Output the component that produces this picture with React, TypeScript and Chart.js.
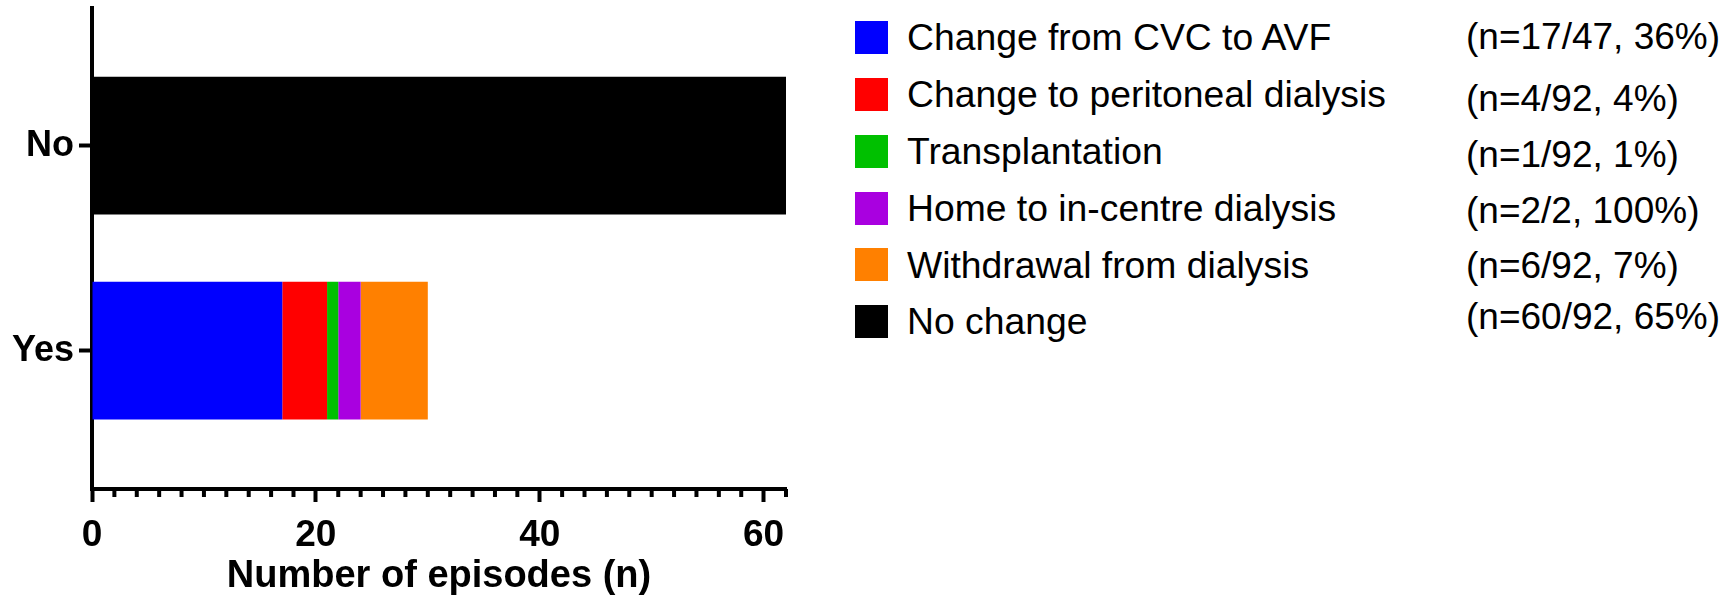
import React, { useEffect, useRef } from "react";
import { Chart, registerables } from "chart.js";

Chart.register(...registerables);

// ---- data ----
const categories = ["No", "Yes"];
const seriesNames = [
  "Change from CVC to AVF",
  "Change to peritoneal dialysis",
  "Transplantation",
  "Home to in-centre dialysis",
  "Withdrawal from dialysis",
  "No change",
];
const cvcToAvf = [0, 17];
const peritoneal = [0, 4];
const transplantation = [0, 1];
const homeToCentre = [0, 2];
const withdrawal = [0, 6];
const noChange = [62, 0];
const legendCounts = [
  "(n=17/47, 36%)",
  "(n=4/92, 4%)",
  "(n=1/92, 1%)",
  "(n=2/2, 100%)",
  "(n=6/92, 7%)",
  "(n=60/92, 65%)",
];
const xMax = 62;
const xStep = 2;
const xLabelEvery = 20;

// ---- styles ----
const seriesColors = ["#0000FF", "#FF0000", "#00C000", "#A900E0", "#FF8000", "#000000"];
const FONT = "'Liberation Sans', Arial, Helvetica, sans-serif";
const labelRowCenters = [37, 94.2, 151, 208, 264.5, 321.3];
const valueRowCenters = [34, 96, 152, 208, 263.3, 314];

const allSeries = [cvcToAvf, peritoneal, transplantation, homeToCentre, withdrawal, noChange];

const minorTicksPlugin = {
  id: "minorTicks",
  afterDraw(chart: any) {
    const s = chart.scales.x;
    const ctx = chart.ctx;
    ctx.save();
    ctx.strokeStyle = "#000";
    ctx.lineWidth = 4;
    ctx.lineCap = "butt";
    s.ticks.forEach((t: any) => {
      if (t.value % xLabelEvery !== 0) {
        const x = s.getPixelForValue(t.value);
        ctx.beginPath();
        ctx.moveTo(x, s.top);
        ctx.lineTo(x, s.top + 8);
        ctx.stroke();
      }
    });
    ctx.restore();
  },
};

function BarChart() {
  const ref = useRef<HTMLCanvasElement>(null);
  useEffect(() => {
    if (!ref.current) return;
    const datasets = allSeries.map((arr, si) => ({
      label: seriesNames[si],
      data: arr.map((v, i) => ({ x: v, y: i })),
      backgroundColor: seriesColors[si],
      borderWidth: 0,
      categoryPercentage: 1,
      barPercentage: 0.672,
    }));
    const chart = new Chart(ref.current, {
      type: "bar",
      data: { datasets },
      plugins: [minorTicksPlugin],
      options: {
        indexAxis: "y",
        responsive: false,
        animation: false,
        layout: { padding: { top: 8, right: 14, bottom: 0, left: 0 } },
        plugins: { legend: { display: false }, tooltip: { enabled: false } },
        scales: {
          x: {
            type: "linear",
            stacked: true,
            min: 0,
            max: xMax,
            afterFit: (s: any) => {
              s.height = 115;
              s.paddingLeft = 0;
              s.paddingRight = 0;
            },
            border: { display: true, color: "#000", width: 4 },
            grid: {
              drawOnChartArea: false,
              drawTicks: true,
              tickLength: 13,
              tickWidth: 4,
              tickColor: (c: any) =>
                c.tick && c.tick.value % xLabelEvery === 0 ? "#000" : "rgba(0,0,0,0)",
            },
            ticks: {
              stepSize: xStep,
              autoSkip: false,
              maxRotation: 0,
              padding: 12,
              color: "#000",
              font: { family: FONT, size: 37, weight: "bold", lineHeight: 1.2 },
              callback: (v: any) => (Number(v) % xLabelEvery === 0 ? String(v) : ""),
            },
            title: {
              display: true,
              text: "Number of episodes (n)",
              color: "#000",
              font: { family: FONT, size: 38, weight: "bold", lineHeight: 1.2 },
              padding: { top: 0, bottom: 5 },
            },
          },
          y: {
            type: "linear",
            stacked: true,
            reverse: true,
            offset: false,
            min: -0.6717,
            max: 1.6746,
            afterFit: (s: any) => {
              s.width = 92;
              s.paddingTop = 0;
              s.paddingBottom = 0;
            },
            afterBuildTicks: (s: any) => {
              s.ticks = categories.map((_, i) => ({ value: i }));
            },
            border: { display: true, color: "#000", width: 4 },
            grid: {
              offset: false,
              drawOnChartArea: false,
              drawTicks: true,
              tickLength: 13,
              tickWidth: 4,
              tickColor: "#000",
            },
            ticks: {
              padding: 5,
              color: "#000",
              autoSkip: false,
              font: { family: FONT, size: 36, weight: "bold", lineHeight: 1.2 },
              callback: (v: any) => categories[Number(v)] ?? "",
            },
          },
        },
      },
    } as any);
    return () => chart.destroy();
  }, []);
  return <canvas ref={ref} width={800} height={604} style={{ display: "block" }} />;
}

export default function App() {
  return (
    <div
      style={{
        position: "fixed",
        left: 0,
        top: 0,
        width: 1735,
        height: 604,
        background: "#fff",
        overflow: "hidden",
        fontFamily: FONT,
      }}
    >
      <div style={{ position: "absolute", left: 0, top: 0, width: 800, height: 604 }}>
        <BarChart />
      </div>
      {seriesNames.map((name, i) => (
        <React.Fragment key={name}>
          <div
            style={{
              position: "absolute",
              left: 855,
              top: labelRowCenters[i] - 16.5,
              width: 33,
              height: 33,
              background: seriesColors[i],
            }}
          />
          <div
            style={{
              position: "absolute",
              left: 907,
              top: labelRowCenters[i] - 28,
              height: 56,
              lineHeight: "56px",
              fontSize: 37.3,
              color: "#000",
              whiteSpace: "nowrap",
            }}
          >
            {name}
          </div>
          <div
            style={{
              position: "absolute",
              left: 1466,
              top: valueRowCenters[i] - 28 + 3,
              height: 56,
              lineHeight: "56px",
              fontSize: 37,
              color: "#000",
              whiteSpace: "nowrap",
            }}
          >
            {legendCounts[i]}
          </div>
        </React.Fragment>
      ))}
    </div>
  );
}
